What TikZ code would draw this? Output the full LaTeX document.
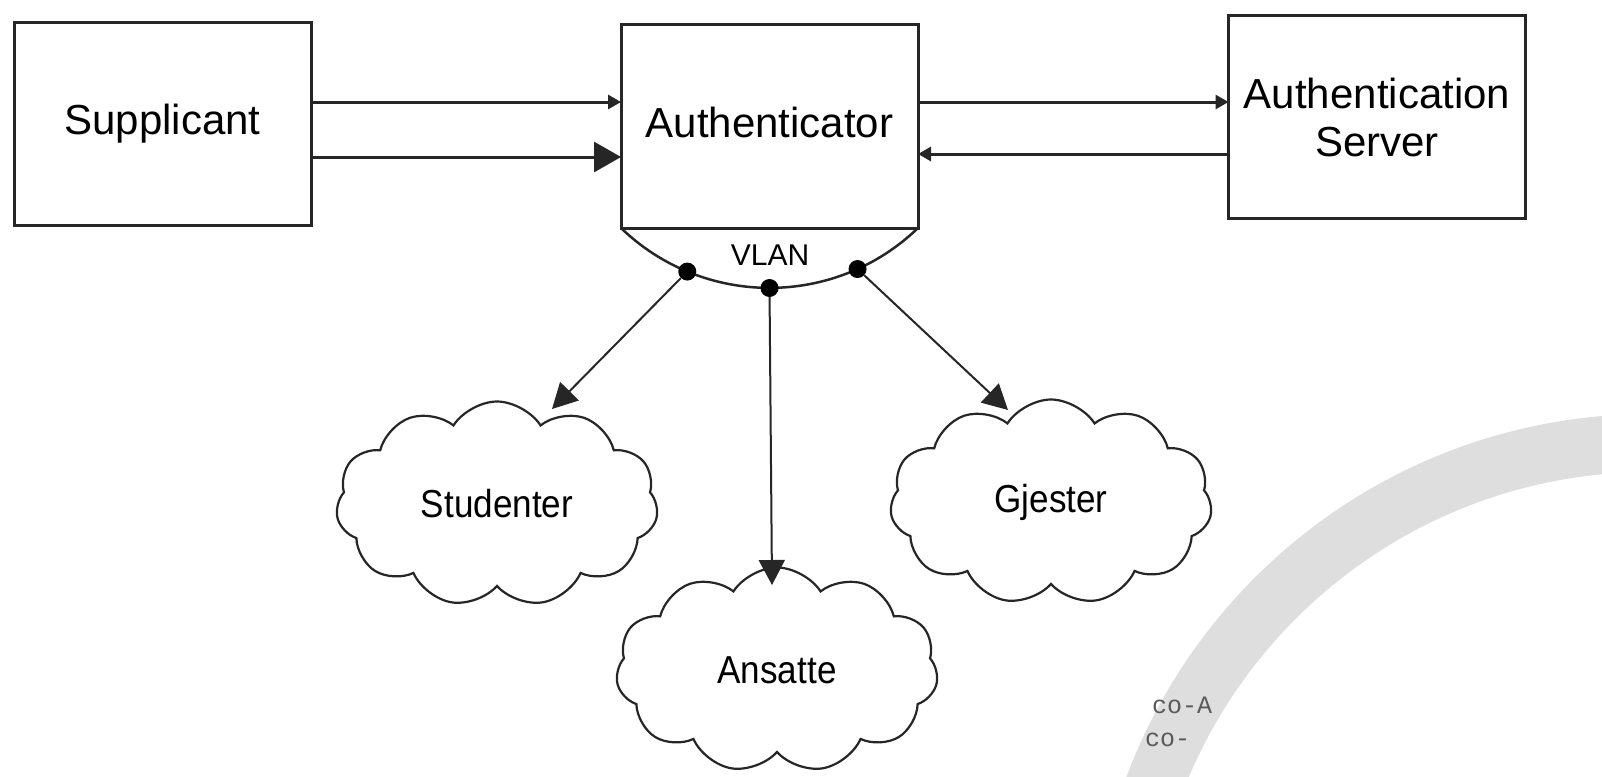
\documentclass[tikz,border=0pt]{standalone}
\usepackage{fontspec}
\setmainfont{Liberation Sans}
\newfontfamily\cloudfont[FakeStretch=0.9]{Liberation Sans}
\newfontfamily\wmfont{Liberation Mono}
\usetikzlibrary{arrows.meta,shapes.symbols,calc}
\definecolor{ln}{HTML}{262626}
\definecolor{wm}{HTML}{DEDEDE}
\begin{document}
\begin{tikzpicture}[x=1pt,y=-1pt,
  box/.style={draw=ln, line width=3pt, minimum width=297pt, minimum height=203pt, inner sep=0pt, outer sep=0pt, align=center, font=\fontsize{42}{48}\selectfont},
  onebox/.style={box, text height=30pt, text depth=9pt},
  cloudnode/.style={cloud, cloud puffs=11, cloud puff arc=115, draw=ln, line width=2.2pt, fill=white, minimum width=322pt, minimum height=205pt, cloud ignores aspect, inner sep=0pt, font=\cloudfont\fontsize{39}{46}\selectfont},
  flow/.style={draw=ln, line width=3pt, -{Triangle[length=13pt,width=14pt]}},
  bigflow/.style={draw=ln, line width=3pt, -{Triangle[length=27pt,width=30pt]}},
  vflow/.style={draw=ln, line width=2pt, -{Triangle[length=25pt,width=26pt]}},
  dot/.style={circle, fill=black, inner sep=0pt, minimum size=18pt},
  wmtext/.style={font=\wmfont\fontsize{25}{30}\selectfont, text=black!65, anchor=west, inner sep=0pt}
]
\useasboundingbox (0,0) rectangle (1602,776);
\begin{scope}
  \clip (0,0) rectangle (1602,776);
  \draw[wm, line width=58pt] (1650,973) circle[radius=530];
\end{scope}

\node[onebox] (sup) at (162.5,124) {Supplicant};
\node[onebox] (auth) at (769.5,126.5) {Authenticator};
\node[box] (srv) at (1377,117) {Authentication\\Server};

% VLAN bowl
\draw[ln, line width=2.5pt] (auth.south west) arc[start angle=133.94, end angle=46.06, radius=214];
\coordinate (vc) at ($(auth.south)+(0,-154)$);
\node[font=\fontsize{30}{36}\selectfont, inner sep=0pt] (vlan) at (770,255) {VLAN};
\node[dot] (d1) at ($(vc)+(112.6:214)$) {};
\node[dot] (d2) at ($(vc)+(90:214)$) {};
\node[dot] (d3) at ($(vc)+(65.7:214)$) {};

% clouds
\node[cloudnode] (stud) at (497,504) {Studenter};
\node[cloudnode] (ans) at (777,670) {Ansatte};
\node[cloudnode] (gje) at (1051,502) {Gjester};

\coordinate (t1) at ($(stud.center)+(55,-95)$);
\coordinate (t2) at ($(ans.center)+(-5,-85)$);
\coordinate (t3) at ($(gje.center)+(-43,-92)$);
\draw[vflow] (d1) -- (t1);
\draw[vflow] (d2) -- (t2);
\draw[vflow] (d3) -- (t3);

% horizontal flows
\coordinate (ya) at (0,102);
\coordinate (yb) at (0,157);
\coordinate (yc) at (0,154);
\draw[flow] (sup.east |- ya) -- (auth.west |- ya);
\draw[bigflow] (sup.east |- yb) -- (auth.west |- yb);
\draw[flow] (auth.east |- ya) -- (srv.west |- ya);
\draw[flow] (srv.west |- yc) -- (auth.east |- yc);

% watermark fragments
\node[wmtext] (w1) at (1152,705) {co-A};
\node[wmtext] (w2) at (1145,740) {co-};
\end{tikzpicture}
\end{document}
